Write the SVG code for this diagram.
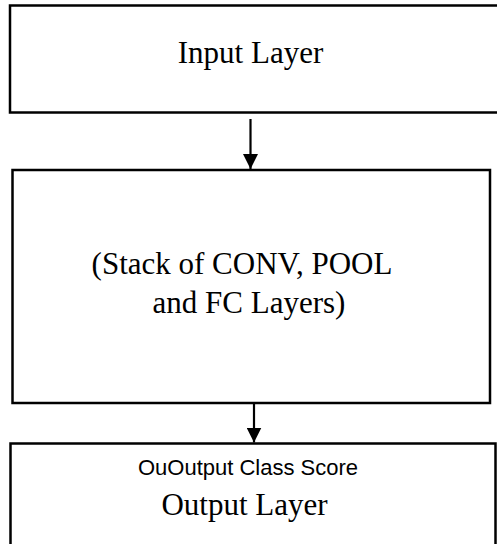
<svg xmlns="http://www.w3.org/2000/svg" width="497" height="544" viewBox="0 0 497 544">
  <defs>
    <style>
      .box { fill: #ffffff; stroke: #000000; stroke-width: 2.5; }
      .serif { font-family: "Liberation Serif", "Times New Roman", serif; font-size: 31px; fill: #000000; text-anchor: middle; }
      .sans { font-family: "Liberation Sans", Arial, sans-serif; font-size: 22px; fill: #000000; text-anchor: middle; }
      .conn { stroke: #000000; stroke-width: 2.2; fill: none; }
    </style>
    <marker id="arrow" markerUnits="userSpaceOnUse" markerWidth="15" markerHeight="15" refX="15" refY="7.5" orient="auto" viewBox="0 0 15 15">
      <path d="M0,0 L15,7.5 L0,15 z" fill="#000000"/>
    </marker>
  </defs>
  <rect width="497" height="544" fill="#ffffff"/>

  <g id="input-layer">
    <rect class="box" x="10" y="5.5" width="495" height="107"/>
    <text class="serif" x="250.5" y="63">Input Layer</text>
  </g>

  <g id="hidden-layers">
    <rect class="box" x="12.5" y="170" width="477.5" height="233"/>
    <text class="serif" x="242" y="274">(Stack of CONV, POOL</text>
    <text class="serif" x="249" y="313">and FC Layers)</text>
  </g>

  <g id="output-layer">
    <rect class="box" x="10.5" y="443.5" width="485" height="110"/>
    <text class="sans" x="248" y="475">OuOutput Class Score</text>
    <text class="serif" x="244.5" y="515">Output Layer</text>
  </g>

  <g id="connectors">
    <line class="conn" x1="250.5" y1="119" x2="250.5" y2="169" marker-end="url(#arrow)"/>
    <line class="conn" x1="254" y1="404" x2="254" y2="442.5" marker-end="url(#arrow)"/>
  </g>
</svg>
